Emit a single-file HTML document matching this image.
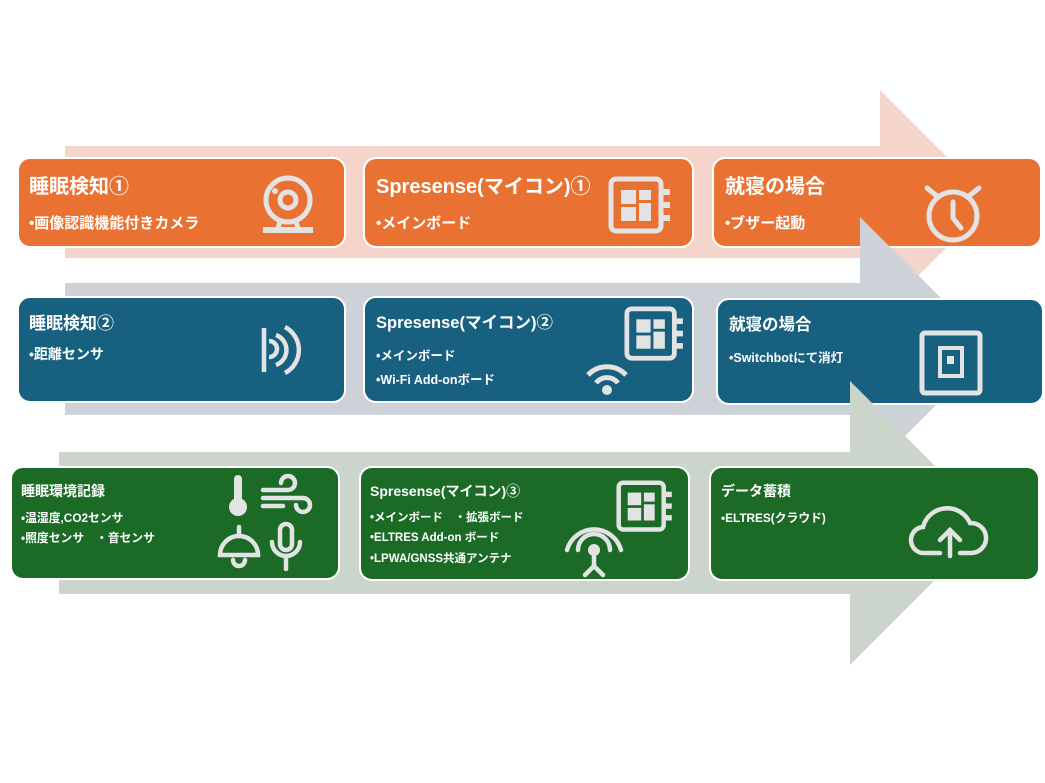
<!DOCTYPE html>
<html><head><meta charset="utf-8"><style>
html,body{margin:0;padding:0;background:#fff;}
body{width:1045px;height:783px;position:relative;overflow:hidden;font-family:"Liberation Sans","Noto Sans CJK JP",sans-serif;}
.l{position:absolute;left:0;top:0;}
.b{position:absolute;box-sizing:border-box;border:2px solid #fff;border-radius:13px;color:#fff;}
.o{background:#e97132;}.bl{background:#17607f;}.g{background:#1b6b27;}
.t{position:absolute;font-weight:bold;white-space:nowrap;}
</style></head><body>
<svg class="l" width="1045" height="783" style="z-index:1"><polygon points="65,146 880,146 880,90 992,202 880,314 880,258 65,258" fill="#f5d4cb"/></svg>
<div class="b o" style="left:17px;top:157px;width:329px;height:91px;z-index:2">
 <div class="t" style="left:10px;top:11px;font-size:20px">睡眠検知①</div>
 <div class="t" style="left:10px;top:53px;font-size:15px">•画像認識機能付きカメラ</div></div>
<div class="b o" style="left:363px;top:157px;width:331px;height:91px;z-index:2">
 <div class="t" style="left:11px;top:11px;font-size:20px">Spresense(マイコン)①</div>
 <div class="t" style="left:11px;top:53px;font-size:15px">•メインボード</div></div>
<div class="b o" style="left:712px;top:157px;width:330px;height:91px;z-index:2">
 <div class="t" style="left:11px;top:11px;font-size:20px">就寝の場合</div>
 <div class="t" style="left:11px;top:53px;font-size:15px">•ブザー起動</div></div>
<svg class="l" width="1045" height="783" style="z-index:3">
<defs><g id="brd" fill="#e3e3e3"><rect x="3" y="3" width="50" height="52" rx="5" fill="none" stroke="#e3e3e3" stroke-width="5"/><rect x="53" y="13" width="9" height="6"/><rect x="53" y="26" width="9" height="6"/><rect x="53" y="39" width="9" height="6"/><rect x="13" y="14" width="15" height="14"/><rect x="13" y="31" width="15" height="14"/><rect x="31" y="14" width="12" height="10"/><rect x="31" y="27" width="12" height="18"/></g></defs>
<g fill="none" stroke="#e3e3e3" stroke-width="5"><circle cx="288" cy="200" r="22"/><circle cx="288" cy="200" r="8"/><line x1="280" y1="221" x2="278" y2="229"/><line x1="296" y1="221" x2="298" y2="229"/></g>
<circle cx="275" cy="191" r="3" fill="#e3e3e3"/><rect x="263" y="227" width="50" height="6" fill="#e3e3e3"/>
<use href="#brd" x="608" y="176"/>
<g fill="none" stroke="#e3e3e3" stroke-width="5" stroke-linecap="round"><circle cx="953" cy="216" r="24"/><polyline points="953,202 953,218 961,228"/><line x1="927" y1="188" x2="937" y2="196"/><line x1="979" y1="188" x2="969" y2="196"/></g>
</svg>
<svg class="l" width="1045" height="783" style="z-index:4"><polygon points="65,283 860,283 860,217 992,349 860,481 860,415 65,415" fill="#cdd2d9"/></svg>
<div class="b bl" style="left:17px;top:296px;width:329px;height:107px;z-index:5">
 <div class="t" style="left:10px;top:11px;font-size:17px">睡眠検知②</div>
 <div class="t" style="left:10px;top:46px;font-size:14px">•距離センサ</div></div>
<div class="b bl" style="left:363px;top:296px;width:331px;height:107px;z-index:5">
 <div class="t" style="left:11px;top:11px;font-size:16.5px">Spresense(マイコン)②</div>
 <div class="t" style="left:11px;top:47px;font-size:12.5px">•メインボード</div>
 <div class="t" style="left:11px;top:71px;font-size:12.5px">•Wi-Fi Add-onボード</div></div>
<div class="b bl" style="left:716px;top:298px;width:328px;height:107px;z-index:5">
 <div class="t" style="left:11px;top:11px;font-size:16.5px">就寝の場合</div>
 <div class="t" style="left:11px;top:47px;font-size:12.5px">•Switchbotにて消灯</div></div>
<svg class="l" width="1045" height="783" style="z-index:6">
<g fill="none" stroke="#e3e3e3" stroke-width="4.5"><line x1="264" y1="328" x2="264" y2="372"/><path d="M269,341 a8,8 0 0 1 0,16"/><path d="M276,335 a16,16 0 0 1 0,30"/><path d="M285,327 a26,26 0 0 1 0,46"/></g>
<use href="#brd" transform="translate(624 306) scale(0.95)"/>
<g fill="none" stroke="#e3e3e3" stroke-width="5"><path d="M588,375 a26,26 0 0 1 38,0"/><path d="M596,383 a14,14 0 0 1 22,0"/></g><circle cx="607" cy="390" r="5" fill="#e3e3e3"/>
<rect x="922" y="333" width="58" height="60" rx="3" fill="none" stroke="#e3e3e3" stroke-width="5"/><rect x="940" y="348" width="22" height="28" fill="none" stroke="#e3e3e3" stroke-width="4"/><rect x="947" y="356" width="7" height="8" fill="#e3e3e3"/>
</svg>
<svg class="l" width="1045" height="783" style="z-index:7"><polygon points="59,452 850,452 850,381 992,523 850,665 850,594 59,594" fill="#ccd5cc"/></svg>
<div class="b g" style="left:10px;top:466px;width:330px;height:114px;z-index:8">
 <div class="t" style="left:9px;top:13px;font-size:14px">睡眠環境記録</div>
 <div class="t" style="left:9px;top:41px;font-size:11.8px">•温湿度,CO2センサ</div>
 <div class="t" style="left:9px;top:61px;font-size:11.8px">•照度センサ　・音センサ</div></div>
<div class="b g" style="left:359px;top:466px;width:331px;height:115px;z-index:8">
 <div class="t" style="left:9px;top:13px;font-size:14px">Spresense(マイコン)③</div>
 <div class="t" style="left:9px;top:41px;font-size:11.5px">•メインボード　・拡張ボード</div>
 <div class="t" style="left:9px;top:61px;font-size:11.5px">•ELTRES Add-on ボード</div>
 <div class="t" style="left:9px;top:82px;font-size:11.5px">•LPWA/GNSS共通アンテナ</div></div>
<div class="b g" style="left:709px;top:466px;width:331px;height:115px;z-index:8">
 <div class="t" style="left:10px;top:13px;font-size:14px">データ蓄積</div>
 <div class="t" style="left:10px;top:41px;font-size:11.8px">•ELTRES(クラウド)</div></div>
<svg class="l" width="1045" height="783" style="z-index:9">
<g fill="#e3e3e3"><rect x="234" y="475" width="8" height="28" rx="4"/><circle cx="238" cy="507" r="9"/></g>
<g fill="none" stroke="#e3e3e3" stroke-width="4.5" stroke-linecap="round"><path d="M263,490 h25 a7,7 0 1 0 -7,-7"/><path d="M263,498 h40 a7,7 0 1 1 -7,7"/><path d="M263,506 h20"/>
<path d="M220,555 a19,19 0 0 1 38,0 z"/><line x1="239" y1="527" x2="239" y2="536"/><path d="M233,560 a6,6 0 0 0 12,0"/>
<rect x="280" y="524" width="12" height="26" rx="6"/><path d="M272,542 a14,14 0 0 0 28,0"/><line x1="286" y1="556" x2="286" y2="569"/>
<path d="M567,550 a28,28 0 0 1 54,0"/><path d="M578,550 a16,16 0 0 1 32,0"/><line x1="594" y1="553" x2="594" y2="566"/><polyline points="585,575 594,566 603,575"/>
<path d="M940,553 h-15 a13,13 0 0 1 -2,-26 a25,25 0 0 1 47,-4 a14,14 0 0 1 2,30 h-12"/><line x1="950" y1="556" x2="950" y2="530"/><polyline points="940,540 950,530 960,540"/></g>
<circle cx="594" cy="550" r="6" fill="#e3e3e3"/>
<use href="#brd" transform="translate(616 480) scale(0.9)"/>
</svg>
</body></html>
